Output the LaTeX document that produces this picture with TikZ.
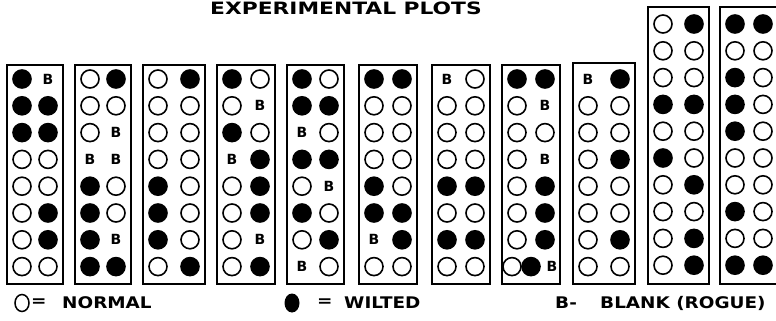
\documentclass[tikz,border=0pt]{standalone}
\usepackage{fontspec}
\setmainfont{DejaVu Sans}
\usetikzlibrary{positioning,shapes.geometric}
\tikzset{
  plotbox/.style={draw, line width=1.7pt},
  nrm/.style={circle, draw, line width=1.6pt, minimum size=18pt, inner sep=0pt},
  wlt/.style={nrm, fill},
  blk/.style={nrm, draw=none, label={[font=\bfseries\fontsize{14}{14}\selectfont, inner sep=0pt]center:B}},
  lgd/.style={font=\bfseries\fontsize{16}{16}\selectfont, xscale=1.15, anchor=west, inner sep=0pt},
}
\begin{document}
\begin{tikzpicture}[x=1pt, y=-1pt]
\useasboundingbox (0,0) rectangle (776,321);
\node[font=\bfseries\fontsize{17}{17}\selectfont, xscale=1.28, anchor=base, inner sep=0pt] (title) at (346,14.5) {EXPERIMENTAL PLOTS};
\foreach \n/\xl/\xr/\yt/\yf/\cells in {
  1/7/63/65/79/{wlt/blk,wlt/wlt,wlt/wlt,nrm/nrm,nrm/nrm,nrm/wlt,nrm/wlt,nrm/nrm},
  2/75/131/65/79/{nrm/wlt,nrm/nrm,nrm/blk,blk/blk,wlt/nrm,wlt/nrm,wlt/blk,wlt/wlt},
  3/143/205/65/79/{nrm/wlt,nrm/nrm,nrm/nrm,nrm/nrm,wlt/nrm,wlt/nrm,wlt/nrm,nrm/wlt},
  4/217/275/65/79/{wlt/nrm,nrm/blk,wlt/nrm,blk/wlt,nrm/wlt,nrm/wlt,nrm/blk,nrm/wlt},
  5/287/344/65/79/{wlt/nrm,wlt/wlt,blk/nrm,wlt/wlt,nrm/blk,wlt/nrm,nrm/wlt,blk/nrm},
  6/359/417/65/79/{wlt/wlt,nrm/nrm,nrm/nrm,nrm/nrm,wlt/nrm,wlt/wlt,blk/wlt,nrm/nrm},
  7/432/490/65/79/{blk/nrm,nrm/nrm,nrm/nrm,nrm/nrm,wlt/wlt,nrm/nrm,wlt/wlt,nrm/nrm},
  8/502/560/65/79/{wlt/wlt,nrm/blk,nrm/nrm,nrm/blk,nrm/wlt,nrm/wlt,nrm/wlt},
  9/573/635/63/79/{blk/wlt,nrm/nrm,nrm/nrm,nrm/wlt,nrm/nrm,nrm/nrm,nrm/wlt,nrm/nrm},
  10/648/709/7/24/{nrm/wlt,nrm/nrm,nrm/nrm,wlt/wlt,nrm/nrm,wlt/nrm,nrm/wlt,nrm/nrm,nrm/wlt,nrm/wlt},
  11/720/778/7/24/{wlt/wlt,nrm/nrm,wlt/nrm,wlt/nrm,wlt/nrm,nrm/nrm,nrm/nrm,wlt/nrm,nrm/nrm,wlt/wlt}}
{
  \draw[plotbox] (\xl,\yt) rectangle (\xr,284);
  \foreach \a/\b [count=\r] in \cells {
    \node[\a] (c\n-\r-l) at (\xl+15,{\yf+(\r-1)*26.8}) {};
    \node[\b] (c\n-\r-r) at (\xr-15,{\yf+(\r-1)*26.8}) {};
  }
}
\node[nrm] (c8-8-l) at (512,266.6) {};
\node[wlt] (c8-8-m) at (531,266.6) {};
\node[blk] (c8-8-r) at (552,266.6) {};
\node[ellipse, draw, line width=1.5pt, inner sep=0pt, minimum width=14pt, minimum height=17pt] (keyn) at (22,303) {};
\node[lgd] (keyneq) at (31,303) {=};
\node[lgd] (keyntxt) at (62,303) {NORMAL};
\node[ellipse, fill, inner sep=0pt, minimum width=15pt, minimum height=19pt] (keyw) at (292,303) {};
\node[lgd] (keyweq) at (317,303) {=};
\node[lgd] (keywtxt) at (344,303) {WILTED};
\node[lgd] (keyb) at (555,303) {B-};
\node[lgd] (keybtxt) at (600,303) {BLANK (ROGUE)};
\end{tikzpicture}
\end{document}
